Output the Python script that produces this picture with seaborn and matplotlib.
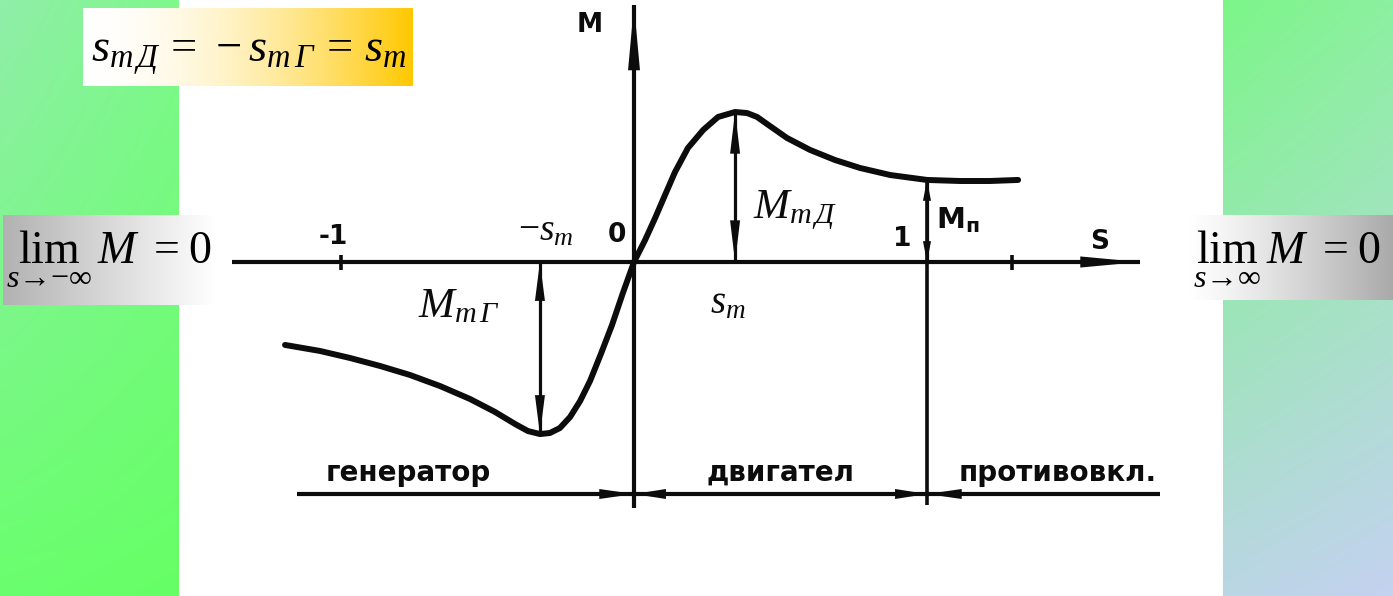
import numpy as np
import pandas as pd
import matplotlib
matplotlib.use("Agg")
import matplotlib.pyplot as plt
import seaborn as sns

# Mechanical characteristic of an induction machine: relative torque M vs slip s
slip_gen = [-1.191, -1.072, -0.969, -0.867, -0.765, -0.662, -0.560, -0.474, -0.406, -0.362,
            -0.321, -0.287, -0.253, -0.218, -0.184, -0.150, -0.113, -0.075, -0.038]
torque_gen = [-0.553, -0.593, -0.640, -0.693, -0.753, -0.827, -0.913, -1.000, -1.080, -1.127,
              -1.147, -1.140, -1.107, -1.033, -0.927, -0.793, -0.613, -0.420, -0.207]
slip_mot = [0.0, 0.038, 0.072, 0.106, 0.140, 0.184, 0.236, 0.287, 0.345, 0.386, 0.420,
            0.454, 0.522, 0.601, 0.686, 0.771, 0.874, 1.0, 1.113, 1.215, 1.311]
torque_mot = [0.0, 0.147, 0.293, 0.447, 0.600, 0.760, 0.880, 0.967, 1.000, 0.993, 0.967,
              0.920, 0.827, 0.747, 0.680, 0.627, 0.580, 0.547, 0.540, 0.540, 0.547]

axis_ticks = [-1.0, 1.29]
tick_values = [-1.0, 0.0, 1.0]
tick_labels = ["-1", "0", "1"]
region_bounds = [-1.15, 0.0, 1.0, 1.795]
region_names = ["генератор", "двигател", "противовкл."]

W, H = 1393, 596
INK = "#0c0c0c"

sns.set_theme(style="white")
plt.rcParams["font.family"] = ["DejaVu Sans"]
plt.rcParams.update({
    "mathtext.fontset": "custom",
    "mathtext.rm": "Liberation Serif",
    "mathtext.it": "Liberation Serif:italic",
    "mathtext.bf": "Liberation Serif:bold",
    "mathtext.sf": "DejaVu Sans:bold",
})

fig = plt.figure(figsize=(W / 100, H / 100), dpi=100)
fig.patch.set_facecolor("white")

# ---------- slide background (pixel coordinates) ----------
bg = fig.add_axes([0, 0, 1, 1], zorder=0)
bg.axis("off")


def quad_gradient(tl, tr, bl, br, h=120, w=60):
    u = np.linspace(0, 1, w)[None, :, None]
    v = np.linspace(0, 1, h)[:, None, None]
    c = [np.array(k, float)[None, None, :] / 255 for k in (tl, tr, bl, br)]
    return (1 - u) * (1 - v) * c[0] + u * (1 - v) * c[1] + (1 - u) * v * c[2] + u * v * c[3]


def hgrad(c0, c1, power=1.0, w=200):
    t = np.linspace(0, 1, w) ** power
    c0 = np.array(c0, float) / 255
    c1 = np.array(c1, float) / 255
    return ((1 - t)[:, None] * c0 + t[:, None] * c1)[None, :, :]


bg.imshow(quad_gradient((144, 238, 168), (126, 248, 140), (106, 255, 110), (102, 255, 102)),
          extent=(0, 179, H, 0), aspect="auto", interpolation="bilinear")
bg.imshow(quad_gradient((124, 246, 136), (140, 240, 160), (186, 214, 228), (196, 210, 240)),
          extent=(1223, W, H, 0), aspect="auto", interpolation="bilinear")

# formula boxes
bg.imshow(hgrad((255, 255, 255), (255, 200, 0), power=1.8), extent=(83, 413, 86, 8),
          aspect="auto", interpolation="bilinear")
bg.imshow(hgrad((178, 178, 178), (255, 255, 255)), extent=(3, 215, 305, 215),
          aspect="auto", interpolation="bilinear")
bg.imshow(hgrad((255, 255, 255), (170, 170, 170), power=1.2), extent=(1188, W, 300, 215),
          aspect="auto", interpolation="bilinear")
bg.set_xlim(0, W)
bg.set_ylim(H, 0)

bg.text(91, 62, r"$s_{m\,Д}\,=\,-s_{m\,Г}\,=\,s_m$", fontsize=33.5, ha="left",
        va="baseline", color="black")
bg.text(6, 263, r"$\lim_{s\to-\infty}\,M\;\;=\;0$", fontsize=33, ha="left", va="baseline",
        color="black")
bg.text(1193, 263, r"$\lim_{s\to\infty}\,M\;\;=\;0$", fontsize=33, ha="left", va="baseline",
        color="black")

# ---------- diagram labels ----------
lab = dict(color=INK, fontweight="bold", fontsize=19, ha="center", va="center")
bg.text(590, 25, "M", **lab)
bg.text(1100, 242, "S", **lab)
tick_label_pos = {-1.0: (333, 237), 0.0: (617, 235), 1.0: (902, 239)}
for val, txt in zip(tick_values, tick_labels):
    bg.text(*tick_label_pos[val], txt, **lab)
bg.text(936, 220, r"$\mathsf{M}_{\mathsf{п}}$", color=INK, fontsize=21, ha="left", va="center")
bg.text(546, 231, r"$-s_m$", color=INK, fontsize=27, ha="center", va="center")
bg.text(710, 302, r"$s_m$", color=INK, fontsize=28, ha="left", va="center")
bg.text(753, 218, r"$M_{m\,Д}$", color=INK, fontsize=31, ha="left", va="baseline")
bg.text(418, 317, r"$M_{m\,Г}$", color=INK, fontsize=31, ha="left", va="baseline")
region_label_x = [408, 780, 1058]
for name, x in zip(region_names, region_label_x):
    bg.text(x, 473, name, **{**lab, "fontsize": 20})

# ---------- diagram in (s, M) coordinates ----------
PX_S, PX_M, OX, OY = 293.0, 150.0, 634.0, 262.0
ax = fig.add_axes([0, 0, 1, 1], zorder=1)
ax.patch.set_alpha(0)

curve = pd.DataFrame({"s": slip_gen + slip_mot, "M": torque_gen + torque_mot})
sns.lineplot(data=curve, x="s", y="M", sort=False, estimator=None, ax=ax,
             color=INK, lw=4.3, solid_capstyle="round", solid_joinstyle="round")

ax.set_xlim(-OX / PX_S, (W - OX) / PX_S)
ax.set_ylim(-(H - OY) / PX_M, OY / PX_M)
ax.axis("off")

s_left, s_right = (232 - OX) / PX_S, (1140 - OX) / PX_S
m_top, m_bot = (OY - 5) / PX_M, -(508 - OY) / PX_M
m_base = -(494 - OY) / PX_M


def arrow(p0, p1, style, hl, hw, lw):
    """Shaft as a plain line, filled heads without outline so tips land exactly."""
    ax.plot([p0[0], p1[0]], [p0[1], p1[1]], color=INK, lw=lw, solid_capstyle="butt")
    ax.annotate("", xy=p1, xytext=p0,
                arrowprops=dict(arrowstyle=f"{style},head_length={hl},head_width={hw}",
                                mutation_scale=1, lw=0, color=INK, shrinkA=0, shrinkB=0))


# coordinate axes
arrow((s_left, 0), (s_right, 0), "-|>", 43, 4.0, 3.0)
arrow((0, m_bot), (0, m_top), "-|>", 47, 4.3, 3.0)
ax.vlines(axis_ticks, -0.05, 0.05, color=INK, lw=2.6)

# extremal torques and the starting torque
i_max = int(np.argmax(torque_mot))
i_min = int(np.argmin(torque_gen))
s_m, M_max = slip_mot[i_max], torque_mot[i_max]
s_g, M_min = slip_gen[i_min], torque_gen[i_min]
M_start = torque_mot[slip_mot.index(1.0)]

arrow((s_m, 0), (s_m, M_max), "<|-|>", 30, 3.6, 2.3)
arrow((s_g, 0), (s_g, M_min), "<|-|>", 28, 3.6, 2.3)
ax.vlines(1.0, -(505 - OY) / PX_M, M_start, color=INK, lw=2.6)
arrow((1.0, 0), (1.0, M_start), "<|-|>", 15, 2.9, 2.3)

# operating regions
arrow((region_bounds[0], m_base), (region_bounds[1], m_base), "-|>", 25, 3.6, 3.0)
arrow((region_bounds[1], m_base), (region_bounds[2], m_base), "<|-|>", 23, 3.6, 3.0)
arrow((region_bounds[3], m_base), (region_bounds[2], m_base), "-|>", 25, 3.6, 3.0)

fig.savefig("out.png", dpi=100)
